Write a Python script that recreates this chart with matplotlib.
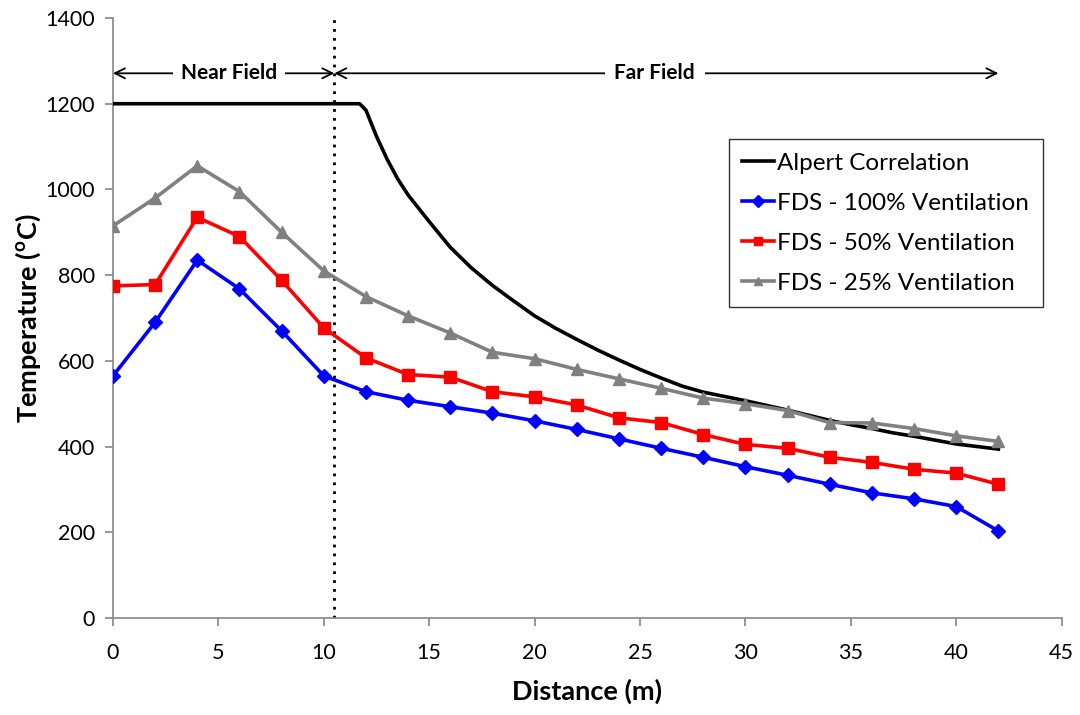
import matplotlib
matplotlib.use("Agg")
import matplotlib.pyplot as plt

# ---- data ----
dist = [0, 2, 4, 6, 8, 10, 12, 14, 16, 18, 20, 22, 24, 26, 28, 30, 32, 34, 36, 38, 40, 42]
fds100 = [565, 690, 835, 768, 670, 565, 528, 508, 493, 478, 460, 440, 418, 396, 375, 353, 333, 312, 292, 278, 260, 203]
fds50 = [775, 778, 935, 890, 788, 677, 607, 568, 562, 528, 516, 497, 467, 456, 428, 405, 396, 375, 363, 347, 338, 312]
fds25 = [915, 980, 1055, 995, 900, 810, 750, 705, 665, 620, 605, 580, 558, 536, 513, 500, 484, 456, 455, 442, 425, 412]

alpert_x = [0, 11.7, 12, 12.5, 13, 13.5, 14, 15, 16, 17, 18, 19, 20, 21, 22, 23, 24, 25, 26, 27, 28,
            29, 30, 31, 32, 33, 34, 35, 36, 37, 38, 39, 40, 41, 42]
alpert_t = [1200, 1200, 1185, 1124, 1071, 1025, 987, 925, 865, 817, 776, 740, 705, 676, 650, 625, 602,
            580, 560, 541, 527, 517, 507, 496, 485, 473, 461, 451, 442, 432, 424, 415, 406, 400, 394]

boundary_x = 10.5
x_ticks = [0, 5, 10, 15, 20, 25, 30, 35, 40, 45]
y_ticks = [0, 200, 400, 600, 800, 1000, 1200, 1400]

plt.rcParams['font.family'] = ['Lato', 'DejaVu Sans']

fig = plt.figure(figsize=(10.8, 7.15), dpi=100)
ax = fig.add_axes([0.1046, 0.1357, 0.8784, 0.8391])

axis_col = '#868686'

ax.plot(alpert_x, alpert_t, color='black', lw=2.6, label='Alpert Correlation', zorder=3)
ax.plot(dist, fds100, color='#0000FF', lw=2.6, marker='D', markersize=7, label='FDS - 100% Ventilation', zorder=4)
ax.plot(dist, fds50, color='#FF0000', lw=2.6, marker='s', markersize=9, label='FDS - 50% Ventilation', zorder=4)
ax.plot(dist, fds25, color='#808080', lw=2.6, marker='^', markersize=9, label='FDS - 25% Ventilation', zorder=4)

ax.axvline(boundary_x, color='black', lw=2, ls=(0, (1, 2.2)), zorder=2)

ax.set_xlim(0, 45)
ax.set_ylim(0, 1400)
ax.set_xticks(x_ticks)
ax.set_yticks(y_ticks)

for s in ['top', 'right']:
    ax.spines[s].set_visible(False)
for s in ['left', 'bottom']:
    ax.spines[s].set_color(axis_col)
    ax.spines[s].set_linewidth(1.2)
ax.tick_params(axis='both', direction='out', length=6, width=1.2, color=axis_col,
               labelsize=15.5, labelcolor='black')
ax.tick_params(axis='x', pad=12)
ax.tick_params(axis='y', pad=7)

ax.set_xlabel('Distance (m)', fontsize=19.5, fontweight='bold', va='center')
ax.set_ylabel('Temperature ($^{\\mathregular{o}}$C)', fontsize=19.5, fontweight='bold', va='center')
ax.xaxis.set_label_coords(0.5, -0.123)
ax.yaxis.set_label_coords(-0.0896, 0.5)

# near / far field annotations
ya = 1271
ax.annotate('', xy=(0, ya), xytext=(boundary_x, ya),
            arrowprops=dict(arrowstyle='<->', color='black', lw=1.3, shrinkA=0, shrinkB=0,
                            mutation_scale=18))
ax.annotate('', xy=(boundary_x, ya), xytext=(42, ya),
            arrowprops=dict(arrowstyle='<->', color='black', lw=1.3, shrinkA=0, shrinkB=0,
                            mutation_scale=18))
ax.text(5.5, ya, 'Near Field', ha='center', va='center', fontsize=15, fontweight='bold',
        bbox=dict(facecolor='white', edgecolor='none', pad=6), zorder=5)
ax.text(25.7, ya, 'Far Field', ha='center', va='center', fontsize=15, fontweight='bold',
        bbox=dict(facecolor='white', edgecolor='none', pad=7), zorder=5)

leg = ax.legend(loc='upper right', bbox_to_anchor=(0.98, 0.798), fontsize=17.5, frameon=True,
                fancybox=False, edgecolor='black', handlelength=1.3, handletextpad=0.15,
                labelspacing=0.78, borderpad=0.55, borderaxespad=0)
leg.get_frame().set_linewidth(1.0)
for h in leg.legend_handles:
    try:
        h.set_markersize(6)
    except Exception:
        pass

fig.savefig('out.png', dpi=100)
